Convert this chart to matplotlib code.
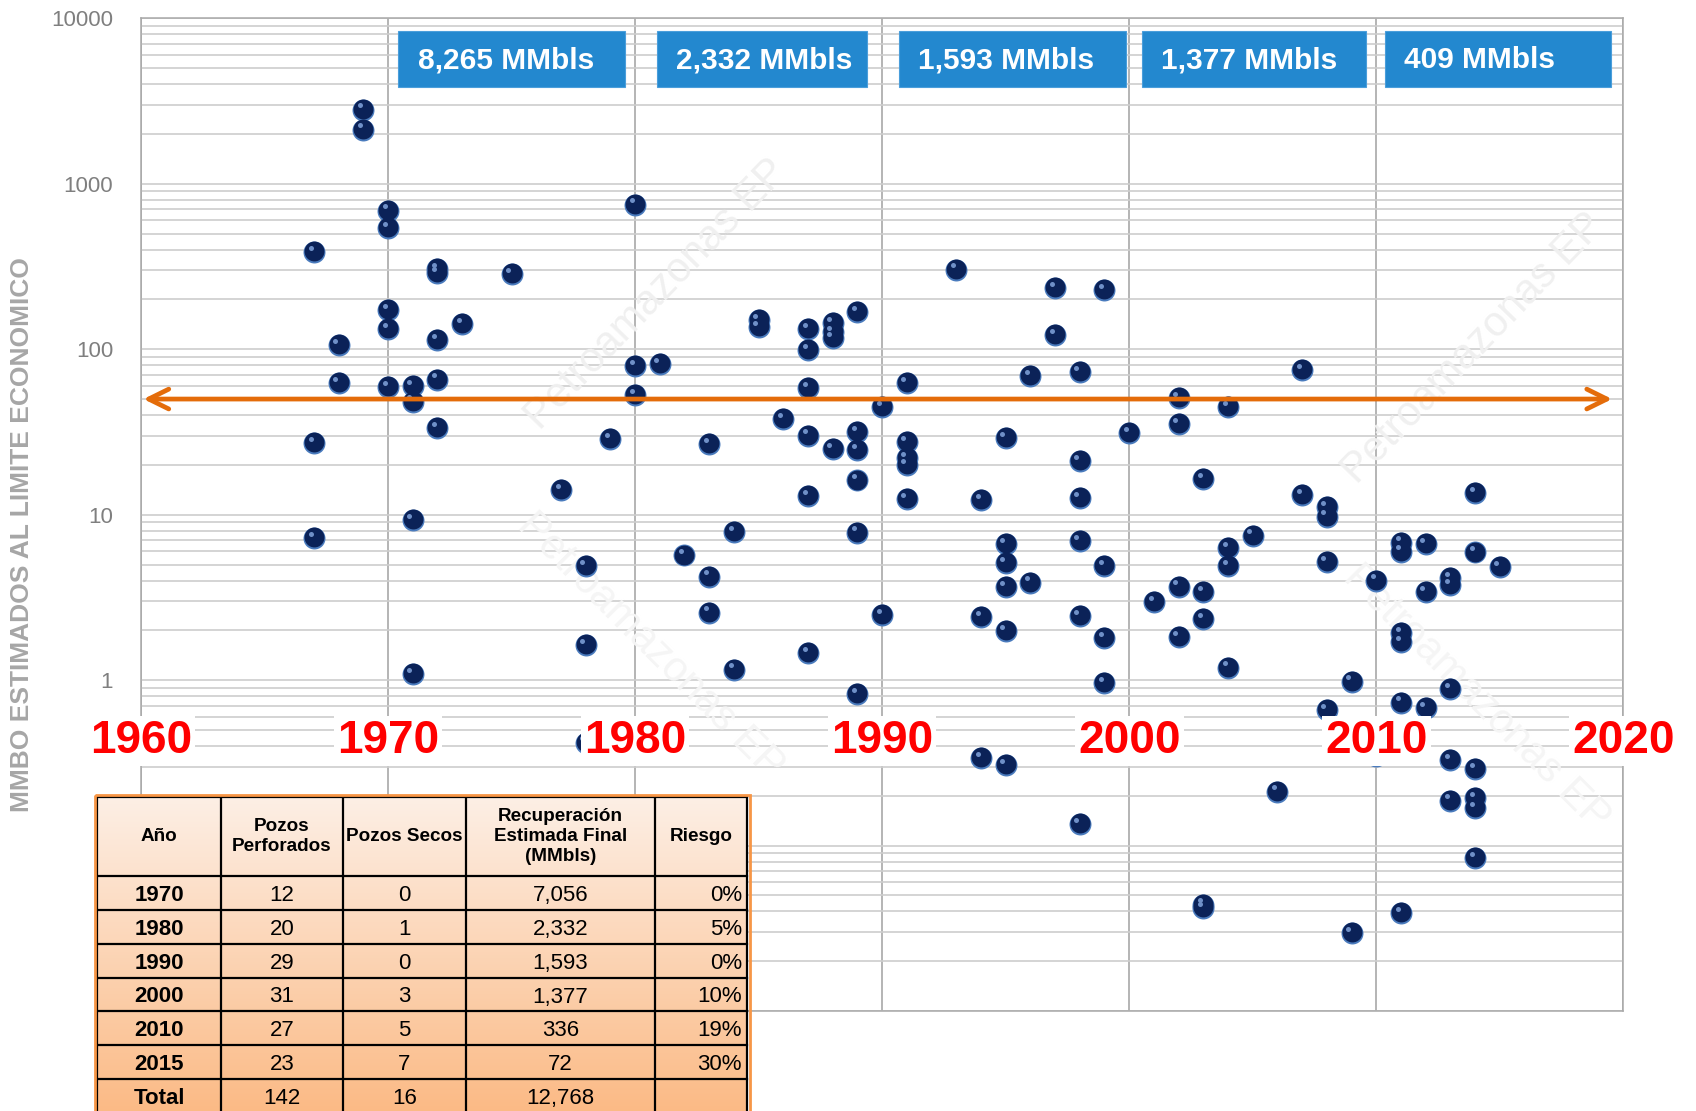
import numpy as np
import matplotlib
matplotlib.use("Agg")
import matplotlib.pyplot as plt
from matplotlib import font_manager
from matplotlib.patches import Rectangle
from matplotlib.transforms import ScaledTranslation, blended_transform_factory
from matplotlib.colors import to_rgb
from matplotlib.ticker import LogLocator, NullFormatter

plt.rcParams['font.family'] = ['Liberation Sans', 'DejaVu Sans']

# --- data: year drilled and estimated MMBO at economic limit (one entry per well)
well_year = [
    1967, 1967, 1967,
    1968, 1968,
    1969, 1969,
    1970, 1970, 1970, 1970, 1970,
    1971, 1971, 1971, 1971,
    1972, 1972, 1972, 1972, 1972,
    1973, 1975, 1977,
    1978, 1978, 1978,
    1979,
    1980, 1980, 1980,
    1981, 1982,
    1983, 1983, 1983,
    1984, 1984,
    1985, 1985, 1986,
    1987, 1987, 1987, 1987, 1987, 1987,
    1988, 1988, 1988, 1988,
    1989, 1989, 1989, 1989, 1989, 1989,
    1990, 1990,
    1991, 1991, 1991, 1991, 1991,
    1993,
    1994, 1994, 1994,
    1995, 1995, 1995, 1995, 1995, 1995,
    1996, 1996,
    1997, 1997,
    1998, 1998, 1998, 1998, 1998, 1998,
    1999, 1999, 1999, 1999,
    2000, 2001,
    2002, 2002, 2002, 2002,
    2003, 2003, 2003, 2003, 2003,
    2004, 2004, 2004, 2004,
    2005, 2006,
    2007, 2007,
    2008, 2008, 2008, 2008,
    2009, 2009,
    2010, 2010,
    2011, 2011, 2011, 2011, 2011, 2011,
    2012, 2012, 2012,
    2013, 2013, 2013, 2013, 2013,
    2014, 2014, 2014, 2014, 2014, 2014,
    2015,
]
well_mmbo = [
    387, 27.1, 7.2,
    106, 62.5,
    2805, 2124,
    688, 540, 173, 132, 59,
    60, 48.3, 9.3, 1.09,
    305, 290, 114, 65.5, 33.4,
    142, 286, 14.1,
    4.9, 1.63, 0.42,
    28.6,
    748, 79.5, 53,
    81.7, 5.67,
    26.7, 4.23, 2.56,
    7.85, 1.16,
    150, 136, 38,
    132, 99.3, 58.2, 30.1, 13.0, 1.46,
    144, 127, 117, 25.0,
    168, 31.6, 24.7, 16.1, 7.8, 0.823,
    44.7, 2.48,
    62.5, 27.5, 22.0, 20.0, 12.4,
    303,
    12.3, 2.40, 0.338,
    29.1, 6.67, 5.1, 3.65, 1.97, 0.307,
    68.5, 3.89,
    234, 122,
    72.4, 21.2, 12.6, 6.95, 2.45, 0.135,
    227, 4.9, 1.80, 0.96,
    31.1, 2.96,
    50.7, 35.3, 3.68, 1.82,
    16.5, 3.41, 2.34, 0.044, 0.042,
    44.7, 6.28, 4.9, 1.19,
    7.48, 0.212,
    75.2, 13.1,
    11.1, 9.75, 5.2, 0.661,
    0.98, 0.0295,
    4.0, 0.35,
    6.79, 5.99, 1.92, 1.69, 0.732, 0.039,
    6.67, 3.41, 0.677,
    4.14, 3.77, 0.886, 0.33, 0.187,
    13.5, 5.91, 0.291, 0.193, 0.168, 0.084,
    4.8,
]

decades = [1960, 1970, 1980, 1990, 2000, 2010, 2020]
ytick_vals = [0.01, 0.1, 1, 10, 100, 1000, 10000]
ytick_text = ['', '', '1', '10', '100', '1000', '10000']
limit_level = 50

box_text = ['8,265 MMbls', '2,332 MMbls', '1,593 MMbls', '1,377 MMbls', '409 MMbls']

tbl_header = ['Año', 'Pozos\nPerforados', 'Pozos Secos',
              'Recuperación\nEstimada Final\n(MMbls)', 'Riesgo']
tbl_year = ['1970', '1980', '1990', '2000', '2010', '2015', 'Total']
tbl_drilled = ['12', '20', '29', '31', '27', '23', '142']
tbl_dry = ['0', '1', '0', '3', '5', '7', '16']
tbl_eur = ['7,056', '2,332', '1,593', '1,377', '336', '72', '12,768']
tbl_risk = ['0%', '5%', '0%', '10%', '19%', '30%', '']

names = {f.name for f in font_manager.fontManager.ttflist}
narrow = ['Liberation Sans Narrow', 'Liberation Sans'] if 'Liberation Sans Narrow' in names \
    else ['Liberation Sans']

W, H = 1696, 1111
fig = plt.figure(figsize=(W / 100, H / 100), dpi=100)
ax = fig.add_axes([140.9 / W, 1 - 1011.1 / H, 1482.4 / W, 992.8 / H])

ax.set_yscale('log')
ax.set_xlim(1960, 2020)
ax.set_ylim(0.01, 10000)
ax.set_xticks(decades)
ax.set_xticklabels([''] * len(decades))
ax.set_yticks(ytick_vals)
ax.set_yticklabels(ytick_text)
ax.yaxis.set_minor_locator(LogLocator(base=10, subs=range(2, 10), numticks=50))
ax.yaxis.set_minor_formatter(NullFormatter())
ax.tick_params(axis='both', which='both', length=0)
ax.tick_params(axis='y', pad=20, labelsize=16, labelcolor='#7f7f7f')
ax.grid(axis='y', which='both', color='#cdcdcd', lw=1.2)
ax.grid(axis='x', which='major', color='#a0a0a0', lw=1.1)
ax.set_axisbelow(True)
for s in ax.spines.values():
    s.set_color('#a8a8a8')
    s.set_linewidth(1.1)

# faint watermarks
for (wx, wy, rot, col) in [(0.348, 0.722, 46, '#f0f0f0'), (0.899, 0.667, 46, '#f0f0f0'),
                           (0.344, 0.368, -45, '#f5f5f5'), (0.901, 0.315, -45, '#f5f5f5')]:
    ax.text(wx, wy, 'Petroamazonas EP', transform=ax.transAxes, rotation=rot,
            rotation_mode='anchor', ha='center', va='center', fontsize=30,
            color=col, zorder=1.5)

# sphere-like markers
body_off = ax.transData + ScaledTranslation(0, 0.7 / 72, fig.dpi_scale_trans)
hi_off = ax.transData + ScaledTranslation(-2.4 / 72, 3.0 / 72, fig.dpi_scale_trans)
ax.scatter(well_year, well_mmbo, s=250, color='#4a7bbd', lw=0, zorder=3)
ax.scatter(well_year, well_mmbo, s=205, color='#0b2258', lw=0, zorder=4, transform=body_off)
ax.scatter(well_year, well_mmbo, s=13, color='#6f90c8', lw=0, zorder=5, transform=hi_off)

# economic limit arrow
ax.annotate('', xy=(2019.55, limit_level), xytext=(1960.1, limit_level),
            arrowprops=dict(arrowstyle='<->,head_length=0.85,head_width=0.42',
                            color='#e46c0a', lw=3.4, shrinkA=0, shrinkB=0,
                            mutation_scale=17),
            zorder=5.5)

# decade labels over the lower part of the chart
bt = blended_transform_factory(ax.transData, ax.transAxes)
for d in decades:
    ax.text(d, 0.26, str(d), transform=bt, ha='center', va='baseline',
            fontsize=33, fontweight='bold', color='#ff0000', clip_on=False, zorder=6,
            bbox=dict(boxstyle='square,pad=0.07', fc='white', ec='none'))

# blue totals boxes at the top
box_left = [1970.42, 1980.87, 1990.67, 2000.52, 2010.36]
box_right = [1979.58, 1989.38, 1999.87, 2009.6, 2019.5]
for x0, x1, label in zip(box_left, box_right, box_text):
    ax.add_patch(Rectangle((x0, 0.9311), x1 - x0, 0.0564, transform=bt,
                           fc='#2388cf', ec='#4a9edb', lw=0.8, zorder=6))
    ax.text(x0 + 0.78, 0.9497, label, transform=bt, ha='left', va='baseline',
            fontsize=21.5, fontweight='bold', color='white', zorder=7)

fig.text(22 / W, 1 - 535 / H, 'MMBO ESTIMADOS AL LIMITE ECONOMICO', rotation=90,
         ha='center', va='center', fontsize=19, fontweight='bold', color='#a6a6a6')

# summary table (overlay axes in pixel units)
tx = fig.add_axes([0, 0, 1, 1], zorder=10)
tx.axis('off')
col_x = [97, 221, 343, 466, 655, 747]
row_y = [797, 876, 910, 944, 978, 1011, 1045, 1079, 1113]
c0, c1 = np.array(to_rgb('#fdefe5')), np.array(to_rgb('#fbba85'))
t = np.linspace(0, 1, 200)[:, None, None]
grad = c0 + (c1 - c0) * t
tx.imshow(grad, extent=[col_x[0], col_x[-1], row_y[-1], row_y[0]], aspect='auto',
          interpolation='bilinear', zorder=1)
for x in col_x:
    tx.plot([x, x], [row_y[0], row_y[-1]], color='black', lw=1.6, zorder=2)
for y in row_y[:-1]:
    tx.plot([col_x[0], col_x[-1]], [y, y], color='black', lw=1.6, zorder=2)
tx.add_patch(Rectangle((col_x[0] - 2.5, row_y[0] - 2.5), col_x[-1] - col_x[0] + 5,
                       row_y[-1] - row_y[0] + 5, fill=False, ec='#f79646', lw=2.0, zorder=3))

hy = (row_y[0] + row_y[1]) / 2
for i, h in enumerate(tbl_header):
    tx.text((col_x[i] + col_x[i + 1]) / 2, hy, h, ha='center', va='center',
            fontsize=13.6, fontweight='bold', family=narrow, zorder=4)

cols = [tbl_year, tbl_drilled, tbl_dry, tbl_eur, tbl_risk]
for r in range(len(tbl_year)):
    cy = (row_y[r + 1] + row_y[r + 2]) / 2
    for c, col in enumerate(cols):
        if c == 4:
            xpos, ha = col_x[5] - 5, 'right'
        else:
            xpos, ha = (col_x[c] + col_x[c + 1]) / 2, 'center'
        tx.text(xpos, cy, col[r], ha=ha, va='center_baseline', fontsize=16,
                fontweight='bold' if c == 0 else 'normal', family=narrow, zorder=4)

tx.set_xlim(0, W)
tx.set_ylim(H, 0)

fig.savefig('out.png', dpi=100)
